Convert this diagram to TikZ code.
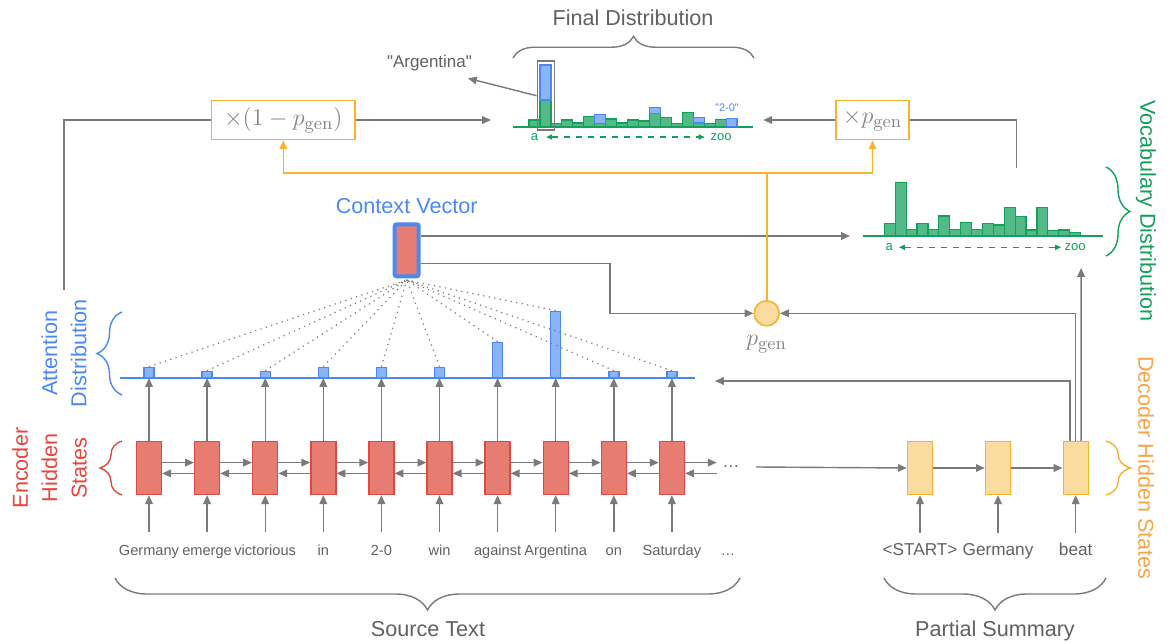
\documentclass[tikz,border=0pt]{standalone}
\usepackage[no-math]{fontspec}
\setmainfont{Liberation Sans}[Ligatures=TeXOff]
\usetikzlibrary{arrows.meta,decorations.pathreplacing}

\definecolor{linegray}{HTML}{7A7A7A}
\definecolor{textgray}{HTML}{616161}
\definecolor{mathgray}{HTML}{858585}
\definecolor{gblue}{HTML}{4A89F3}
\definecolor{gbluefill}{HTML}{8AB4F8}
\definecolor{gred}{HTML}{DB4B42}
\definecolor{gredfill}{HTML}{E77C73}
\definecolor{gredtext}{HTML}{E8453C}
\definecolor{ggreen}{HTML}{12A05C}
\definecolor{ggreenfill}{HTML}{52BA87}
\definecolor{gorange}{HTML}{F6B42C}
\definecolor{gorangefill}{HTML}{FBDCA0}
\definecolor{gorangetext}{HTML}{F7A548}

\tikzset{
  conn/.style={draw=linegray, line width=0.7pt, -{Triangle[length=4.4pt,width=3.8pt]}},
  link/.style={draw=linegray, line width=0.7pt},
  yconn/.style={draw=gorange, line width=0.8pt, -{Triangle[length=4.4pt,width=3.8pt]}},
  encbox/.style={draw=gred, fill=gredfill, line width=0.7pt, minimum width=12.5pt, minimum height=26.5pt, inner sep=0pt},
  decbox/.style={draw=gorange, fill=gorangefill, line width=0.7pt, minimum width=12.5pt, minimum height=26.5pt, inner sep=0pt},
  attbar/.style={draw=gblue, fill=gbluefill, line width=0.7pt, minimum width=5pt, inner sep=0pt, anchor=south},
  grnbar/.style={draw=ggreen, fill=ggreenfill, line width=0.6pt},
  blubar/.style={draw=gblue, fill=gbluefill, line width=0.6pt},
  srcword/.style={text=textgray, font=\fontsize{7.3}{9}\selectfont, inner sep=0pt, text height=5.5pt, text depth=1.5pt, anchor=base},
  sumword/.style={text=textgray, font=\fontsize{8.6}{10}\selectfont, inner sep=0pt, text height=6.5pt, text depth=1.8pt, anchor=base},
  headline/.style={text=textgray, font=\fontsize{10.8}{13}\selectfont, inner sep=0pt, anchor=base},
  sidelabel/.style={font=\fontsize{10.8}{14.7}\selectfont, align=center, inner sep=0pt},
  mulbox/.style={draw=gorange, line width=0.8pt, text=mathgray, font=\fontsize{12.5}{15}\selectfont, inner sep=0pt},
  axislabel/.style={text=ggreen, font=\fontsize{6.5}{8}\selectfont, inner sep=0pt},
  rangearrow/.style={draw=ggreen, line width=0.6pt, dashed, {Triangle[length=3pt,width=2.6pt]}-{Triangle[length=3pt,width=2.6pt]}},
  curly/.style={decorate, decoration={brace, amplitude=#1}, line width=0.7pt},
}

\begin{document}
\begin{tikzpicture}[x=0.5pt,y=-0.5pt]
  \useasboundingbox (0,0) rectangle (1169,643);
  \fill[white] (0,0) rectangle (1169,643);

  % encoder states and source words
  \foreach \i/\w in {0/Germany,1/emerge,2/victorious,3/in,4/2-0,5/win,6/against,7/Argentina,8/on,9/Saturday} {
    \node[encbox] (e\i) at (149+58.1*\i,468) {};
    \node[srcword] (w\i) at (149+58.1*\i,555) {\w};
    \draw[conn] ([yshift=6pt]w\i.north) -- (e\i.south);
  }
  \node[srcword] (wdots) at (728,555) {…};
  \foreach \i in {0,...,8} {
    \pgfmathtruncatemacro{\j}{\i+1}
    \draw[conn] ([yshift=2.7pt]e\i.east) -- ([yshift=2.7pt]e\j.west);
    \draw[conn] ([yshift=-2.7pt]e\j.west) -- ([yshift=-2.7pt]e\i.east);
  }
  \coordinate (encend) at (716.7,468);
  \draw[conn] ([yshift=2.7pt]e9.east) -- ([yshift=2.7pt]encend);
  \draw[conn] ([yshift=-2.7pt]encend) -- ([yshift=-2.7pt]e9.east);
  \node[text=textgray, font=\fontsize{8.6}{10}\selectfont, inner sep=0pt] (edots) at (731,467) {…};

  % attention distribution
  \draw[gblue, line width=0.9pt] (120,378) -- (695,378);
  \foreach \i/\h in {0/10,1/6,2/6,3/10,4/10,5/10,6/35,7/66,8/6,9/6} {
    \node[attbar, minimum height=\h*0.5pt] (a\i) at (149+58.1*\i,378) {};
    \draw[conn] (e\i.north) -- (a\i.south);
  }

  % context vector
  \foreach \i in {0,...,9}
    \draw[linegray, line width=0.6pt, dash pattern=on 0.6pt off 2.2pt] (a\i.north) -- (406.7,280);
  \node[draw=gblue, fill=gredfill, line width=2pt, rounded corners=1pt, minimum width=12pt, minimum height=26pt, inner sep=0pt] (ctx) at (406.7,250.3) {};
  \node[text=gblue, font=\fontsize{10.8}{13}\selectfont, inner sep=0pt] (ctxlabel) at (406.7,205.7) {Context Vector};

  % decoder states and partial summary
  \node[decbox] (d0) at (920,468) {};
  \node[decbox] (d1) at (998,468) {};
  \node[decbox] (d2) at (1075.7,468) {};
  \node[sumword] (s0) at (920,555) {<START>};
  \node[sumword] (s1) at (998,555) {Germany};
  \node[sumword] (s2) at (1075.7,555) {beat};
  \draw[conn] ([yshift=4.5pt]s0.north) -- (d0.south);
  \draw[conn] ([yshift=4.5pt]s1.north) -- (d1.south);
  \draw[conn] ([yshift=4.5pt]s2.north) -- (d2.south);
  \draw[conn] ([xshift=8pt]edots.east) -- (d0.west);
  \draw[conn] (d0.east) -- (d1.west);
  \draw[conn] (d1.east) -- (d2.west);

  % generation probability
  \node[circle, draw=gorange, fill=gorangefill, line width=0.8pt, minimum size=12.5pt, inner sep=0pt] (pgen) at (766.7,313.3) {};
  \node[text=mathgray, font=\fontsize{12.5}{15}\selectfont, inner sep=0pt] (pgenlabel) at (766.7,344.3) {$p_{\mathrm{gen}}$};
  \coordinate (vocin) at (850,236);
  \draw[conn] (ctx.east |- vocin) -- (vocin);
  \coordinate (bend) at (610,313.3);
  \draw[conn] ([yshift=-6.5pt]ctx.east) -| (bend) -- (pgen.west);
  \coordinate (attin) at (715,381);
  \draw[conn] ([xshift=-2.8pt]d2.north) |- (attin);
  \draw[conn] (d2.north) |- (pgen.east);
  \coordinate (vocbot) at (1081.1,268);
  \draw[conn] ([xshift=2.7pt]d2.north) -- (vocbot);

  % mixing
  \node[mulbox, minimum width=71.7pt, minimum height=19.6pt] (mulcopy) at (283.3,120) {$\times(1-p_{\mathrm{gen}})$};
  \node[mulbox, minimum width=36.5pt, minimum height=19.6pt] (mulgen) at (872.5,120) {$\times p_{\mathrm{gen}}$};
  \coordinate (split) at (766.7,172.7);
  \draw[gorange, line width=0.8pt] (pgen.north) -- (split);
  \draw[yconn] (split) -| (mulcopy.south);
  \draw[yconn] (split) -| (mulgen.south);
  \coordinate (attout) at (64,290);
  \draw[link] (attout) |- (mulcopy.west);
  \coordinate (finalin) at (491,120);
  \draw[conn] (mulcopy.east) -- (finalin);
  \coordinate (vocout) at (1016.7,167.7);
  \draw[link] (vocout) |- (mulgen.east);
  \coordinate (finalin2) at (763.3,120);
  \draw[conn] (mulgen.west) -- (finalin2);

  % final distribution
  \draw[ggreen, line width=0.9pt] (513,126.7) -- (753,126.7);
  \foreach \i/\g in {0/6.7,1/26.7,2/3.3,3/6.7,4/3.7,5/10,6/3.3,7/7.7,8/3.7,9/6.7,10/5.7,11/13.3,12/9.3,13/3.3,14/14,15/3.7,16/3.3,17/7.3}
    \draw[grnbar] (529+10.95*\i,126.7) rectangle ++(10.95,-\g);
  \foreach \i/\g/\b in {1/26.7/35,6/3.3/9,11/13.3/6,15/3.7/5.7,18/0/8.3}
    \draw[blubar] (529+10.95*\i,126.7-\g) rectangle ++(10.95,-\b);
  \node[draw=linegray, line width=0.8pt, minimum width=8.5pt, minimum height=34.5pt, inner sep=0pt] (argbox) at (545.8,95.7) {};
  \node[text=textgray, font=\fontsize{8.5}{10}\selectfont, inner sep=0pt] (argword) at (429.5,62.7) {"Argentina"};
  \coordinate (argtip) at (468,78.3);
  \draw[conn] (argbox.west) -- (argtip);
  \node[text=gblue, font=\fontsize{5.5}{6}\selectfont, inner sep=0pt] (twozero) at (727,108) {"2-0"};
  \node[axislabel] (fa) at (534.5,137) {a};
  \node[axislabel] (fzoo) at (721,137) {zoo};
  \draw[rangearrow] ([xshift=3.8pt]fa.east) -- ([xshift=-2.7pt]fzoo.west);

  % vocabulary distribution
  \draw[ggreen, line width=0.9pt] (862.7,236) -- (1102.7,236);
  \foreach \i/\g in {0/12.7,1/53.7,2/6.7,3/12.7,4/6.7,5/20,6/6.7,7/13.7,8/6.7,9/12.7,10/11,11/28.7,12/19.3,13/6,14/28.7,15/5.3,16/6,17/3.3}
    \draw[grnbar] (884.3+10.9*\i,236) rectangle ++(10.9,-\g);
  \node[axislabel] (va) at (889.3,247.3) {a};
  \node[axislabel] (vzoo) at (1075,247.3) {zoo};
  \draw[rangearrow] ([xshift=2.8pt]va.east) -- ([xshift=-1.5pt]vzoo.west);

  % braces and labels
  \draw[curly=10.8pt, linegray] (513,58) -- (754,58);
  \draw[curly=16pt, linegray] (740,578) -- (115,578);
  \draw[curly=16pt, linegray] (1106,578) -- (884,578);
  \draw[curly=12pt, ggreen] (1106,167) -- (1106,256);
  \draw[curly=12.5pt, gorange] (1105.7,441) -- (1105.7,495);
  \draw[curly=12.5pt, gblue] (122,395) -- (122,312);
  \draw[curly=11pt, gred] (122,495) -- (122,441);
  \node[headline] (finaltitle) at (633,25) {Final Distribution};
  \node[headline] (srctitle) at (428,636) {Source Text};
  \node[headline] (sumtitle) at (995,636) {Partial Summary};
  \node[sidelabel, text=gblue, rotate=90] (attlabel) at (64,353) {Attention\\Distribution};
  \node[sidelabel, text=gredtext, rotate=90] (enclabel) at (49.5,468) {Encoder\\Hidden\\States};
  \node[sidelabel, text=ggreen, rotate=-90] (voclabel) at (1146,211) {Vocabulary Distribution};
  \node[sidelabel, text=gorangetext, rotate=-90] (declabel) at (1146,468) {Decoder Hidden States};
\end{tikzpicture}
\end{document}
